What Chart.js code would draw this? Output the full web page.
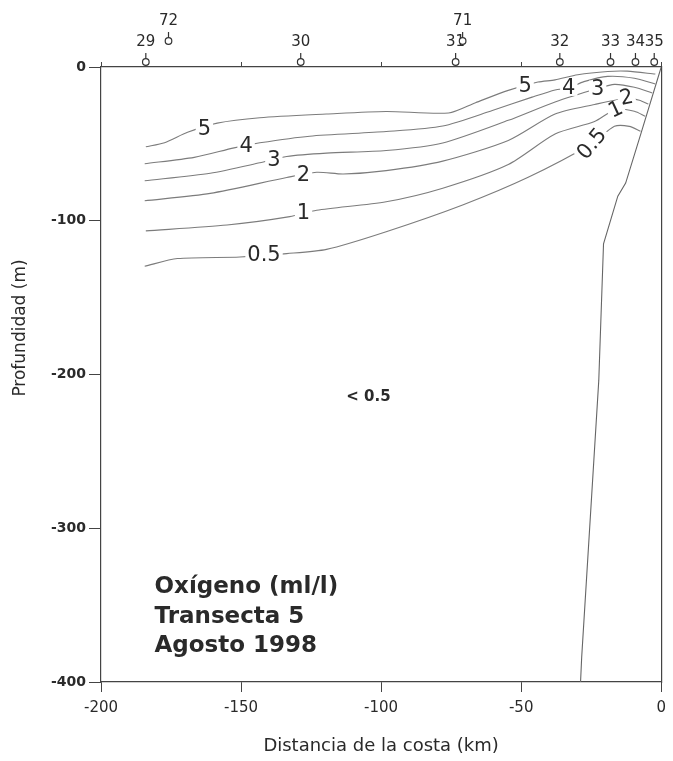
<!DOCTYPE html>
<html>
<head>
<meta charset="utf-8">
<title>Oxígeno - Transecta 5</title>
<script src="https://cdn.jsdelivr.net/npm/chart.js@4.4.0/dist/chart.umd.min.js"></script>
<style>
  html, body { margin: 0; padding: 0; background: #fff; }
  #wrap { width: 673px; height: 761px; }
</style>
</head>
<body>
<div id="wrap"><canvas id="myChart" width="673" height="761"></canvas></div>
<script>
//========================= Data ==================================//

// x = distancia de la costa (km), y = profundidad (m)
const xTicks = [-200, -150, -100, -50, 0];
const yTicks = [0, -100, -200, -300, -400];

// isolineas de oxigeno (ml/l)
const iso5X = [-184.0, -177.3, -169.1, -158.5, -143.3, -119.5, -98.2, -75.9, -66.3, -54.6, -44.0, -37.9, -29.8, -19.1, -12.1, -2.1];
const iso5Y = [-51.9, -49.2, -42.5, -36.5, -33.0, -30.6, -28.9, -29.9, -23.2, -15.2, -9.8, -8.4, -5.0, -2.9, -2.7, -4.6];

const iso4X = [-184.4, -166.7, -152.5, -143.3, -125.5, -98.2, -78.0, -60.3, -46.1, -37.9, -33.0, -27.6, -19.1, -9.6, -2.1];
const iso4Y = [-62.9, -58.8, -52.6, -49.3, -45.0, -42.0, -38.4, -28.3, -19.6, -14.9, -13.6, -9.5, -6.1, -7.3, -11.1];

const iso3X = [-184.4, -161.0, -143.3, -133.7, -119.5, -98.2, -78.0, -54.6, -37.9, -22.7, -16.7, -9.6, -3.2];
const iso3Y = [-74.0, -69.1, -62.3, -58.2, -56.0, -54.3, -49.4, -34.7, -22.7, -14.0, -11.3, -13.2, -16.9];

const iso2X = [-184.4, -161.0, -133.7, -123.0, -113.5, -98.2, -78.0, -54.6, -37.9, -23.8, -12.4, -7.8, -4.6];
const iso2Y = [-87.0, -82.2, -71.9, -68.5, -69.6, -67.4, -61.2, -47.8, -30.6, -24.4, -20.3, -21.6, -24.1];

const iso1X = [-184.0, -155.0, -132.6, -123.0, -98.2, -78.0, -54.6, -37.9, -23.8, -16.3, -9.6, -5.7];
const iso1Y = [-106.6, -102.8, -97.3, -93.2, -87.6, -78.8, -63.4, -43.6, -35.5, -27.6, -28.8, -32.0];

const iso05X = [-184.4, -172.7, -150.4, -133.7, -119.5, -98.2, -70.9, -47.5, -24.8, -16.7, -11.4, -7.4];
const iso05Y = [-129.6, -124.6, -123.6, -121.4, -118.6, -107.1, -89.7, -71.7, -49.9, -38.6, -38.6, -41.8];

// fondo (talud)
const bottomX = [0, -7.2, -12.7, -15.5, -20.6, -22.3, -28.4, -28.8];
const bottomY = [0, -43, -75.5, -84, -115, -204, -384, -400];

// etiquetas de las isolineas
const labelText = ['5', '4', '3', '2', '1', '0.5', '5', '4', '3', '2', '1', '0.5'];
const labelX = [-163.1, -148.2, -138.3, -127.7, -127.7, -141.8, -48.6, -33.0, -22.7, -12.4, -16.3, -24.8];
const labelY = [-39.8, -51.3, -60.3, -69.8, -94.6, -122.2, -11.9, -13.6, -14.0, -19.7, -27.6, -49.9];
const labelRot = [0, 0, 0, 0, 0, 0, 0, 0, 0, -12, -25, -50];

// estaciones
const stationNames = ['29', '72', '30', '31', '71', '32', '33', '34', '35'];
const stationX = [-184.0, -175.9, -128.7, -73.4, -70.9, -36.2, -18.1, -9.2, -2.5];
const stationUp = [0, 1, 0, 0, 1, 0, 0, 0, 0];

const noteLines = ['Oxígeno (ml/l)', 'Transecta 5', 'Agosto 1998'];

//========================= Helpers ==================================//

const FONT = "'DejaVu Sans', 'Liberation Sans', Arial, sans-serif";
const LINE = '#7c7c7c';
const AXIS = '#444';
const INK = '#2a2a2a';

function pts(xs, ys) {
  return xs.map((x, i) => ({ x: x, y: ys[i] }));
}

function isoLine(xs, ys) {
  return {
    data: pts(xs, ys),
    showLine: true,
    borderColor: LINE,
    borderWidth: 1.1,
    pointRadius: 0,
    tension: 0.25,
    xAxisID: 'x',
    yAxisID: 'y'
  };
}

/***************************************************************
* Contour labels, stations and notes
****************************************************************/
const annotations = {
  id: 'annotations',
  afterDatasetsDraw(chart) {
    const ctx = chart.ctx;
    const sx = chart.scales.x;
    const sy = chart.scales.y;
    const area = chart.chartArea;

    // contour labels with white knock-out
    ctx.save();
    ctx.font = '21px ' + FONT;
    ctx.textAlign = 'center';
    ctx.textBaseline = 'middle';
    labelText.forEach((t, i) => {
      const px = sx.getPixelForValue(labelX[i]);
      const py = sy.getPixelForValue(labelY[i]);
      const w = ctx.measureText(t).width;
      ctx.save();
      ctx.translate(px, py);
      ctx.rotate(labelRot[i] * Math.PI / 180);
      ctx.fillStyle = '#fff';
      ctx.fillRect(-w / 2 - 2, -8, w + 4, 16);
      ctx.fillStyle = INK;
      ctx.fillText(t, 0, 1);
      ctx.restore();
    });
    ctx.restore();

    // stations
    ctx.save();
    ctx.strokeStyle = '#333';
    ctx.lineWidth = 1.2;
    ctx.fillStyle = INK;
    ctx.font = '15px ' + FONT;
    ctx.textAlign = 'center';
    ctx.textBaseline = 'middle';
    stationX.forEach((x, i) => {
      const px = sx.getPixelForValue(x);
      const cy = area.top - 5 - stationUp[i] * 21;
      ctx.beginPath();
      ctx.arc(px, cy, 3.3, 0, Math.PI * 2);
      ctx.fillStyle = '#fff';
      ctx.fill();
      ctx.stroke();
      ctx.beginPath();
      ctx.moveTo(px, cy - 3.3);
      ctx.lineTo(px, cy - 9);
      ctx.stroke();
      ctx.fillStyle = INK;
      ctx.fillText(stationNames[i], px, cy - 20);
    });
    ctx.restore();

    // "< 0.5" and the title block
    ctx.save();
    ctx.fillStyle = INK;
    ctx.font = 'bold 15px ' + FONT;
    ctx.textAlign = 'center';
    ctx.textBaseline = 'middle';
    ctx.fillText('< 0.5', sx.getPixelForValue(-104.5), sy.getPixelForValue(-214.5));

    ctx.font = 'bold 23px ' + FONT;
    ctx.textAlign = 'left';
    const nx = sx.getPixelForValue(-180.9);
    const ny = sy.getPixelForValue(-338.4);
    noteLines.forEach((t, i) => ctx.fillText(t, nx, ny + i * 29.5));

    // y axis title
    ctx.font = '17px ' + FONT;
    ctx.textAlign = 'center';
    ctx.translate(21, 328);
    ctx.rotate(-Math.PI / 2);
    ctx.fillText('Profundidad (m)', 0, 0);
    ctx.restore();
  }
};

/***************************************************************
* Chart
****************************************************************/
const ctx = document.getElementById('myChart').getContext('2d');

const myChart = new Chart(ctx, {
  type: 'scatter',
  data: {
    datasets: [
      isoLine(iso5X, iso5Y),
      isoLine(iso4X, iso4Y),
      isoLine(iso3X, iso3Y),
      isoLine(iso2X, iso2Y),
      isoLine(iso1X, iso1Y),
      isoLine(iso05X, iso05Y),
      {
        data: pts(bottomX, bottomY),
        showLine: true,
        borderColor: '#666',
        borderWidth: 1.1,
        pointRadius: 0,
        tension: 0,
        xAxisID: 'x',
        yAxisID: 'y'
      }
    ]
  },
  options: {
    responsive: false,
    animation: false,
    layout: { padding: { left: 10, top: 67, right: 6, bottom: 4 } },
    plugins: {
      legend: { display: false },
      tooltip: { enabled: false }
    },
    scales: {
      x: {
        type: 'linear',
        position: 'bottom',
        min: xTicks[0],
        max: xTicks[xTicks.length - 1],
        afterBuildTicks: (s) => { s.ticks = xTicks.map(v => ({ value: v })); },
        afterFit: (s) => { s.height = 75; },
        ticks: {
          color: INK,
          padding: 7,
          font: { family: FONT, size: 15 }
        },
        grid: { drawOnChartArea: false, tickLength: 10, tickColor: AXIS },
        border: { color: AXIS, width: 1.2 },
        title: {
          display: true,
          text: 'Distancia de la costa (km)',
          color: INK,
          font: { family: FONT, size: 18 },
          padding: 0
        }
      },
      x2: {
        type: 'linear',
        position: 'top',
        min: xTicks[0],
        max: xTicks[xTicks.length - 1],
        afterBuildTicks: (s) => { s.ticks = xTicks.map(v => ({ value: v })); },
        afterFit: (s) => { s.height = 0; },
        ticks: { display: false },
        grid: { drawOnChartArea: false, tickLength: 5, tickColor: AXIS },
        border: { color: AXIS, width: 1.2 }
      },
      y: {
        type: 'linear',
        position: 'left',
        min: yTicks[yTicks.length - 1],
        max: yTicks[0],
        afterBuildTicks: (s) => { s.ticks = yTicks.map(v => ({ value: v })); },
        afterFit: (s) => { s.width = 91; },
        ticks: {
          color: INK,
          padding: 3,
          font: { family: FONT, size: 14, weight: 'bold' }
        },
        grid: { drawOnChartArea: false, tickLength: 12, tickColor: AXIS },
        border: { color: AXIS, width: 1.2 }
      },
      y2: {
        type: 'linear',
        position: 'right',
        min: yTicks[yTicks.length - 1],
        max: yTicks[0],
        afterFit: (s) => { s.width = 0; },
        ticks: { display: false },
        grid: { drawOnChartArea: false, drawTicks: false },
        border: { color: AXIS, width: 1.2 }
      }
    }
  },
  plugins: [annotations]
});
</script>
</body>
</html>
